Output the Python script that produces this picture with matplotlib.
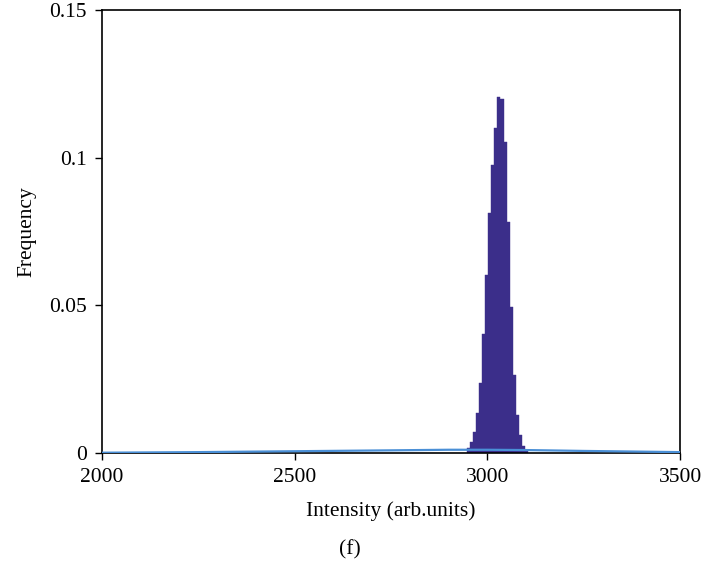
import numpy as np
import matplotlib.pyplot as plt

# histogram bins (left edges) and frequencies
bin_left = [2946, 2954, 2962, 2970, 2978, 2986, 2994, 3002, 3010, 3018,
            3026, 3034, 3042, 3050, 3058, 3066, 3074, 3082, 3090, 3098]
freq = [0.0016, 0.0036, 0.0072, 0.0134, 0.0238, 0.0402, 0.0603, 0.0812, 0.0975, 0.110,
        0.1205, 0.1200, 0.1054, 0.0783, 0.0495, 0.0264, 0.0129, 0.0061, 0.0025, 0.0007]
bin_width = 8

# broad reference curve near the baseline
curve_x = [2000, 2250, 2500, 2750, 2900, 3000, 3100, 3250, 3500]
curve_y = [0.0001, 0.0003, 0.0006, 0.0009, 0.0011, 0.0011, 0.0010, 0.0007, 0.0003]

plt.rcParams['font.family'] = ['Liberation Serif', 'DejaVu Serif']

fig = plt.figure(figsize=(7.03, 5.64), dpi=100)
ax = fig.add_axes([0.1451, 0.1968, 0.8222, 0.7855])

ax.bar(bin_left, freq, width=bin_width, align='edge', color='#3b2e8a',
       edgecolor='#3b2e8a', linewidth=0.3, zorder=2)
ax.plot(curve_x, curve_y, color='#4a8fd6', linewidth=1.6, zorder=3)

ax.set_xlim(2000, 3500)
ax.set_ylim(0, 0.15)
ax.set_xticks([2000, 2500, 3000, 3500])
ax.set_yticks([0, 0.05, 0.1, 0.15])
ax.set_yticklabels(['0', '0.05', '0.1', '0.15'])
ax.tick_params(direction='out', length=5, width=1, labelsize=15.5, pad=6)
for s in ax.spines.values():
    s.set_linewidth(1.2)

ax.set_xlabel('Intensity (arb.units)', fontsize=15.5, labelpad=10)
ax.set_ylabel('Frequency', fontsize=15.5, labelpad=9)
fig.text(0.4975, 0.026, '(f)', ha='center', va='center', fontsize=15.5)

plt.savefig('out.png', dpi=100)
